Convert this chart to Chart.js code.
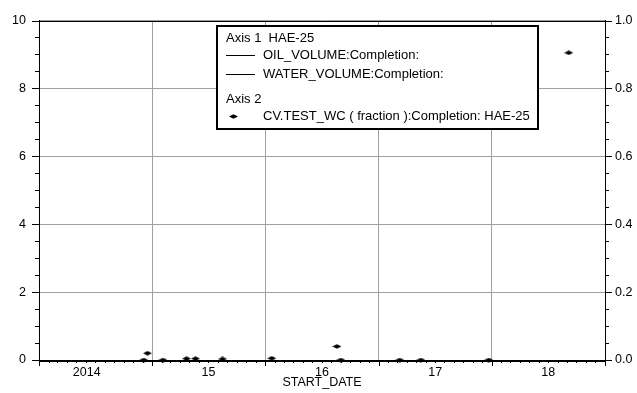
<!DOCTYPE html>
<html>
<head>
<meta charset="utf-8">
<script src="https://cdn.jsdelivr.net/npm/chart.js@4.4.1/dist/chart.umd.min.js"></script>
<style>
  html, body { margin: 0; padding: 0; background: #fff; }
  #wrap { width: 637px; height: 393px; }
</style>
</head>
<body>
<div id="wrap"><canvas id="chart" width="637" height="393"></canvas></div>
<script>
/* === DATA === */
const wellName = "HAE-25";
const testDates = ["2014-12-05", "2014-12-17", "2015-02-05", "2015-04-22", "2015-05-21", "2015-08-16",
  "2016-01-22", "2016-08-19", "2016-09-01", "2017-03-10", "2017-05-17", "2017-12-22", "2018-09-06"];
const testWc = [0, 0.02, 0, 0.004, 0.004, 0.003, 0.005, 0.04, 0, 0, 0, 0, 0.905];
const oilVolume = [];   // no values plotted in the picture
const waterVolume = [];
const yearStarts = [2014, 2015, 2016, 2017, 2018, 2019];
const yearLabels = ["2014     ", "15", "16", "17", "18"];
const leftTicks = [0, 2, 4, 6, 8, 10];
const rightTicks = [0, 0.2, 0.4, 0.6, 0.8, 1.0];

const GRID = "#a0a0a0";
Chart.defaults.font.family = "'Liberation Sans', Arial, sans-serif";
Chart.defaults.font.size = 12.5;
Chart.defaults.color = "#000";

const toMs = s => {
  const p = s.split("-").map(Number);
  return Date.UTC(p[0], p[1] - 1, p[2]);
};
const boundaries = yearStarts.map(y => Date.UTC(y, 0, 1));
const mids = yearStarts.slice(0, -1).map(y => Date.UTC(y, 6, 2));

// marker: flat diamond
const marker = document.createElement("canvas");
marker.width = 9; marker.height = 5;
(function () {
  const c = marker.getContext("2d");
  c.fillStyle = "#000";
  c.beginPath();
  c.moveTo(0, 2.5); c.lineTo(4.5, 0.3); c.lineTo(9, 2.5); c.lineTo(4.5, 4.7); c.closePath();
  c.fill();
})();

/* === PLUGINS === */
const tickMarks = {
  id: "tickMarks",
  beforeDatasetsDraw(chart) {
    const ctx = chart.ctx;
    const a = chart.chartArea;
    const x = chart.scales.x, y = chart.scales.y, y2 = chart.scales.y2;
    ctx.save();
    ctx.strokeStyle = "#000";
    ctx.lineWidth = 1;
    ctx.beginPath();
    // x: years long, months short
    yearStarts.forEach(yr => {
      for (let m = 0; m < 12; m++) {
        const v = Date.UTC(yr, m, 1);
        if (v > x.max) break;
        const px = Math.round(x.getPixelForValue(v)) + 0.5;
        ctx.moveTo(px, a.bottom);
        ctx.lineTo(px, a.bottom + (m === 0 ? 6 : 3));
      }
    });
    // left y
    for (let v = 0; v <= 10; v += 0.5) {
      const py = Math.round(y.getPixelForValue(v)) + 0.5;
      const len = v % 2 === 0 ? 7 : 4;
      ctx.moveTo(a.left - len, py); ctx.lineTo(a.left, py);
    }
    // right y
    for (let i = 0; i <= 20; i++) {
      const v = i * 0.05;
      const py = Math.round(y2.getPixelForValue(v)) + 0.5;
      const len = i % 4 === 0 ? 7 : 4;
      ctx.moveTo(a.right, py); ctx.lineTo(a.right + len, py);
    }
    ctx.stroke();
    ctx.strokeRect(Math.round(a.left) + 0.5, Math.round(a.top) + 0.5,
      Math.round(a.right - a.left), Math.round(a.bottom - a.top));
    ctx.restore();
  }
};

const boxLegend = {
  id: "boxLegend",
  afterDraw(chart) {
    const ctx = chart.ctx;
    const ds = chart.data.datasets;
    const L = 217, T = 26, W = 321, H = 103;
    ctx.save();
    ctx.fillStyle = "#fff";
    ctx.fillRect(L, T, W, H);
    ctx.strokeStyle = "#000";
    ctx.lineWidth = 2;
    ctx.strokeRect(L, T, W, H);
    ctx.fillStyle = "#000";
    ctx.font = "13px 'Liberation Sans', Arial, sans-serif";
    ctx.textBaseline = "middle";
    ctx.textAlign = "left";
    ctx.fillText("Axis 1  " + wellName, 226, 38);
    ctx.lineWidth = 1;
    [[ds[0], 55.5], [ds[1], 74.5]].forEach(([d, yy]) => {
      ctx.beginPath();
      ctx.moveTo(226, yy); ctx.lineTo(255, yy);
      ctx.stroke();
      ctx.fillText(d.label, 263, yy);
    });
    ctx.fillText("Axis 2", 226, 99);
    ctx.drawImage(marker, 229, 114);
    ctx.fillText(ds[2].label, 263, 116);
    ctx.restore();
  }
};

/* === CHART === */
new Chart(document.getElementById("chart"), {
  type: "scatter",
  data: {
    datasets: [
      { type: "line", label: "OIL_VOLUME:Completion:", data: oilVolume, yAxisID: "y",
        borderColor: "#000", borderWidth: 1, pointRadius: 0 },
      { type: "line", label: "WATER_VOLUME:Completion:", data: waterVolume, yAxisID: "y",
        borderColor: "#000", borderWidth: 1, pointRadius: 0 },
      { label: "CV.TEST_WC ( fraction ):Completion: " + wellName,
        data: testDates.map((d, i) => ({ x: toMs(d), y: testWc[i] })),
        yAxisID: "y2", pointStyle: marker, pointRadius: 5, clip: false,
        backgroundColor: "#000", borderColor: "#000" }
    ]
  },
  options: {
    responsive: false,
    animation: false,
    devicePixelRatio: 1,
    layout: { padding: { top: 14, left: 0, right: 0, bottom: 0 } },
    plugins: { legend: { display: false }, tooltip: { enabled: false } },
    scales: {
      x: {
        type: "linear",
        min: boundaries[0],
        max: boundaries[boundaries.length - 1],
        afterBuildTicks: s => {
          s.ticks = boundaries.concat(mids).sort((a, b) => a - b).map(v => ({ value: v }));
        },
        afterFit: s => { s.height = 33; },
        ticks: {
          autoSkip: false, maxRotation: 0, padding: 5,
          callback: v => {
            const i = mids.indexOf(v);
            return i >= 0 ? yearLabels[i] : "";
          }
        },
        grid: {
          drawTicks: false,
          color: c => (c.tick && boundaries.includes(c.tick.value)) ? GRID : "rgba(0,0,0,0)"
        },
        border: { color: "#000" },
        title: { display: true, text: "START_DATE", padding: { top: 0, bottom: 3 } }
      },
      y: {
        position: "left",
        min: 0, max: 10,
        afterBuildTicks: s => { s.ticks = leftTicks.map(v => ({ value: v })); },
        afterFit: s => { s.width = 39; },
        ticks: { padding: 13 },
        grid: { drawTicks: false, color: GRID },
        border: { color: "#000" }
      },
      y2: {
        position: "right",
        min: 0, max: 1,
        afterBuildTicks: s => { s.ticks = rightTicks.map(v => ({ value: v })); },
        afterFit: s => { s.width = 32; },
        ticks: { padding: 10, callback: v => v.toFixed(1) },
        grid: { drawTicks: false, drawOnChartArea: false },
        border: { color: "#000" }
      }
    }
  },
  plugins: [tickMarks, boxLegend]
});
</script>
</body>
</html>
